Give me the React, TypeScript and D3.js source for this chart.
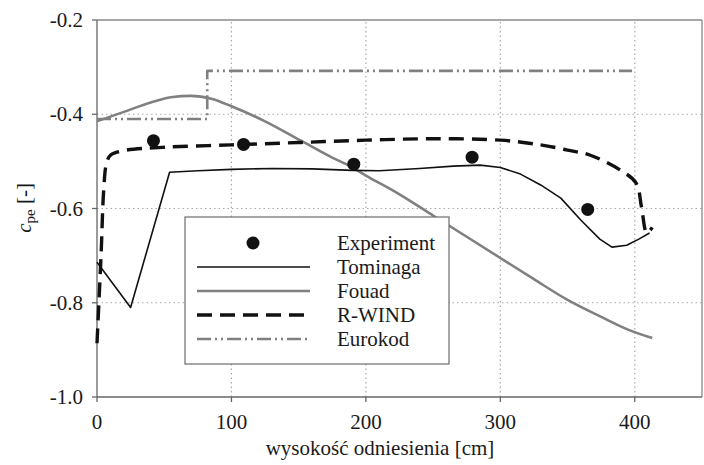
import * as d3 from "d3";

const expX = [42, 109, 191, 279, 365];
const expY = [-0.456, -0.464, -0.506, -0.491, -0.602];

const tominagaX = [0, 25, 54, 75, 100, 130, 160, 190, 210, 240, 265, 285, 300, 315, 330, 345, 360, 374, 383, 394, 403, 411];
const tominagaY = [-0.714, -0.81, -0.523, -0.52, -0.517, -0.515, -0.516, -0.519, -0.52, -0.515, -0.51, -0.508, -0.513, -0.527, -0.55, -0.578, -0.625, -0.665, -0.682, -0.678, -0.665, -0.652];

const fouadX = [0, 20, 40, 55, 70, 85, 100, 125, 151, 175, 188, 200, 225, 250, 275, 300, 325, 350, 375, 395, 413];
const fouadY = [-0.415, -0.395, -0.375, -0.364, -0.361, -0.367, -0.383, -0.415, -0.455, -0.492, -0.51, -0.53, -0.57, -0.615, -0.66, -0.705, -0.75, -0.794, -0.83, -0.857, -0.875];

const rwindX = [0, 3, 5, 7, 10, 20, 50, 100, 150, 200, 250, 300, 330, 350, 367, 389, 401, 405, 409, 413];
const rwindY = [-0.886, -0.7, -0.56, -0.505, -0.487, -0.477, -0.47, -0.465, -0.46, -0.455, -0.452, -0.455, -0.465, -0.476, -0.487, -0.518, -0.546, -0.597, -0.652, -0.64];

const eurokodX = [0, 82, 82, 398];
const eurokodY = [-0.41, -0.41, -0.308, -0.308];

const xTicks = [0, 100, 200, 300, 400];
const yTicks = [-1.0, -0.8, -0.6, -0.4, -0.2];

const legendNames = ["Experiment", "Tominaga", "Fouad", "R-WIND", "Eurokod"];

const W = 704;
const H = 465;
const m = { left: 97, right: 2, top: 20, bottom: 68 };
const FONT = '"Liberation Serif", "Times New Roman", "DejaVu Serif", serif';
const txt = { fontFamily: FONT, fontSize: 21, fill: "#1a1a1a" };

const styles: Record<string, { stroke: string; width: number; dash?: string }> = {
  Tominaga: { stroke: "#111", width: 1.6 },
  Fouad: { stroke: "#808080", width: 2.6 },
  "R-WIND": { stroke: "#111", width: 3.4, dash: "15 8" },
  Eurokod: { stroke: "#808080", width: 2.6, dash: "14 4 2 4 2 4" },
};

export default function App() {
  const x = d3.scaleLinear().domain([0, 450]).range([m.left, W - m.right]);
  const y = d3.scaleLinear().domain([-1.0, -0.2]).range([H - m.bottom, m.top]);

  const zip = (xs: number[], ys: number[]) => xs.map((v, i) => [v, ys[i]] as [number, number]);
  const lin = d3.line<[number, number]>().x((d) => x(d[0])).y((d) => y(d[1]));
  const smooth = d3
    .line<[number, number]>()
    .x((d) => x(d[0]))
    .y((d) => y(d[1]))
    .curve(d3.curveMonotoneX);
  const cat = d3
    .line<[number, number]>()
    .x((d) => x(d[0]))
    .y((d) => y(d[1]))
    .curve(d3.curveCatmullRom.alpha(0.5));

  const series = [
    { name: "Fouad", d: smooth(zip(fouadX, fouadY)) || "" },
    { name: "Eurokod", d: lin(zip(eurokodX, eurokodY)) || "" },
    { name: "Tominaga", d: lin(zip(tominagaX, tominagaY)) || "" },
    { name: "R-WIND", d: cat(zip(rwindX, rwindY)) || "" },
  ];

  const x0 = x(0);
  const x1 = x(450);
  const y0 = y(-1.0);
  const y1 = y(-0.2);

  // legend box
  const lg = { left: 185, top: 217, right: 449, bottom: 364 };
  const rowY = (i: number) => 243 + i * 24;

  return (
    <svg width={W} height={H} style={{ position: "absolute", left: 0, top: 0, background: "#fff" }}>
      {/* grid */}
      {xTicks.slice(1).map((t) => (
        <line key={"gx" + t} x1={x(t)} x2={x(t)} y1={y0} y2={y1} stroke="#a8a8a8" strokeWidth={1.2} strokeDasharray="1.5 3" />
      ))}
      {yTicks.slice(1, 4).map((t) => (
        <line key={"gy" + t} x1={x0} x2={x1} y1={y(t)} y2={y(t)} stroke="#a8a8a8" strokeWidth={1.2} strokeDasharray="1.5 3" />
      ))}
      {/* frame */}
      <line x1={x0} x2={x1} y1={y1} y2={y1} stroke="#888" strokeWidth={1.3} />
      <line x1={x1} x2={x1} y1={y1} y2={y0} stroke="#888" strokeWidth={1.3} />
      <line x1={x0} x2={x1} y1={y0} y2={y0} stroke="#666" strokeWidth={1.3} />
      <line x1={x0} x2={x0} y1={y0} y2={y1} stroke="#666" strokeWidth={1.3} />
      {/* ticks */}
      {yTicks.map((t) => (
        <g key={"ty" + t}>
          <line x1={x0 - 5} x2={x0} y1={y(t)} y2={y(t)} stroke="#666" strokeWidth={1.3} />
          <text x={x0 - 14} y={y(t) + 7} textAnchor="end" style={txt}>
            {d3.format(".1f")(t).replace("−", "-")}
          </text>
        </g>
      ))}
      {xTicks.map((t) => (
        <g key={"tx" + t}>
          <line x1={x(t)} x2={x(t)} y1={y0} y2={y0 + 5} stroke="#666" strokeWidth={1.3} />
          <text x={x(t)} y={429} textAnchor="middle" style={txt}>
            {t}
          </text>
        </g>
      ))}
      {/* axis titles */}
      <text x={380} y={455} textAnchor="middle" style={txt}>
        wysokość odniesienia [cm]
      </text>
      <text transform="translate(31,208) rotate(-90)" textAnchor="middle" style={txt}>
        <tspan fontStyle="italic">c</tspan>
        <tspan style={{ fontSize: 15 }} dy={4}>pe</tspan>
        <tspan dy={-4}> [-]</tspan>
      </text>
      {/* series */}
      {series.map((s) => (
        <path
          key={s.name}
          d={s.d}
          fill="none"
          stroke={styles[s.name].stroke}
          strokeWidth={styles[s.name].width}
          strokeDasharray={styles[s.name].dash}
          strokeLinejoin="round"
        />
      ))}
      {expX.map((v, i) => (
        <circle key={"e" + i} cx={x(v)} cy={y(expY[i])} r={6.5} fill="#111" />
      ))}
      {/* legend */}
      <rect x={lg.left} y={lg.top} width={lg.right - lg.left} height={lg.bottom - lg.top} fill="#fff" stroke="#777" strokeWidth={1.3} />
      {legendNames.map((n, i) => (
        <g key={"lg" + n}>
          {i === 0 ? (
            <circle cx={253} cy={rowY(i)} r={6.5} fill="#111" />
          ) : (
            <line
              x1={197}
              x2={310}
              y1={rowY(i)}
              y2={rowY(i)}
              stroke={styles[n].stroke}
              strokeWidth={styles[n].width}
              strokeDasharray={styles[n].dash}
            />
          )}
          <text x={337} y={rowY(i) + 7} style={txt}>
            {n}
          </text>
        </g>
      ))}
    </svg>
  );
}
